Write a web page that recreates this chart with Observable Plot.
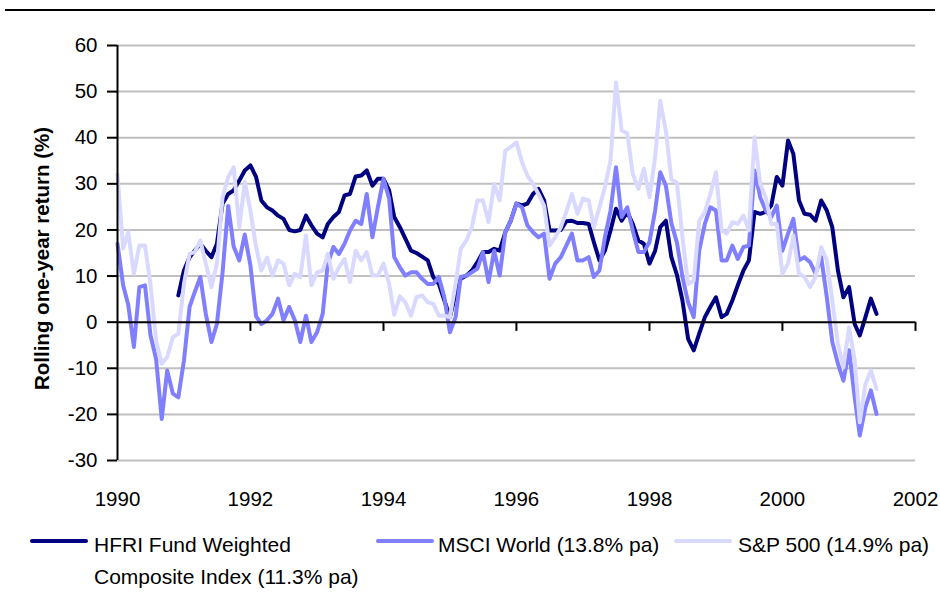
<!DOCTYPE html>
<html><head><meta charset="utf-8">
<script src="https://cdn.jsdelivr.net/npm/d3@7"></script>
<script src="https://cdn.jsdelivr.net/npm/@observablehq/plot@0.6"></script>
<style>
body{margin:0;background:#fff;font-family:"Liberation Sans",Arial,sans-serif;}
#wrap{position:relative;width:940px;height:598px;overflow:hidden;}
#chart{position:absolute;left:0;top:0;}
#topline{position:absolute;left:5px;top:9px;width:930px;height:2px;background:#000;}
#legend{position:absolute;left:0;top:520px;width:940px;height:78px;font-size:21px;color:#000;}
.sw{position:absolute;height:4px;border-radius:2px;top:19px;}
.lt{position:absolute;top:9px;line-height:32px;white-space:nowrap;}
</style></head><body>
<div id="wrap"><div id="chart"></div><div id="topline"></div><div id="legend"></div></div>
<script>
// Series: rolling one-year returns (%), monthly
const mainStart = [1990, 0];   // Jan 1990 (MSCI World, S&P 500)
const hfriStart = [1990, 11];  // Dec 1990 (HFRI)

const hfri = [5.8,11.2,14.1,15.5,17,15.5,14.1,17,25.7,27.8,28.6,30.7,32.9,34,31.5,26.4,24.9,24.2,23.1,22.4,20,19.7,20,23.1,21,19.2,18.4,21.3,22.8,23.9,27.5,27.8,31.6,31.8,32.9,29.6,31.1,31.1,28.6,22.8,20.6,18.1,15.5,15,14.2,13.4,9.8,8.3,4.7,1.1,6.1,9.4,10.1,11.2,13,15.2,15.2,15.9,15.5,19.5,22,25.7,25.3,25.7,27.8,28.9,26.4,19.9,19.9,20,21.9,22,21.5,21.5,21.3,17.4,13.4,15.5,19.9,24.6,22,23.9,21.3,17.7,17,12.7,15.5,20.6,22,14.1,10.2,4.7,-3.6,-6.1,-2.5,1.1,3.3,5.4,1.1,1.8,4.7,8,11.2,13.4,23.9,23.5,23.9,25.3,31.5,29.6,39.4,36.5,26.4,23.5,23.3,22,26.4,24.2,20.6,11.2,5.4,7.6,-0.4,-2.9,1.1,5.1,1.8];

const msci = [17,8,3.8,-5.4,7.6,8,-2.8,-8,-21,-10.5,-15.5,-16.3,-8.3,3.3,6.5,9.8,1.8,-4.3,-0.4,10.8,25.2,16.4,13.4,19,12.3,1.3,-0.4,0.4,1.8,5.1,0.4,3.3,0.4,-4.3,1.4,-4.3,-2.2,1.8,12.7,16.3,14.8,17,19.9,22,21.3,27.8,18.4,24.9,31.1,26.8,14.1,11.9,10.1,10.8,10.8,9.4,8.3,8.3,9.8,5.4,-2.2,1.1,9.8,10.1,10.8,11.6,15.2,8.7,15.5,10.1,19.5,22,25.7,24.9,21,19.5,18.4,19.2,9.4,12.7,14.1,16.6,19.2,13.4,13.4,14.1,9.8,11.2,18.4,24.2,33.6,22.8,24.9,19.9,15.2,15.2,17.4,24.2,32.5,29.6,21.5,17.2,9.8,4.3,1.1,15.5,21.3,24.9,24.2,13.4,13.4,16.6,13.7,16.3,16.6,32.9,27.1,24.2,22.8,25.3,15.5,19.2,22.4,13.4,14.1,13,10.5,14.1,5.4,-4.3,-9,-12.7,-6.1,-16.3,-24.6,-18.4,-14.8,-19.9];

const sp500 = [32,16,19.5,10.5,16.6,16.6,8.3,-4,-9,-7.6,-3.3,-2.5,8.3,14.8,15.2,17.7,12.7,7.6,12.7,27,31.5,33.6,20.6,30.4,24.2,16.3,11.2,14,10.1,13.4,12.7,8,10.5,9.8,18.8,8,10.8,11.2,14.8,9.4,11.9,13.7,8.7,15.5,13.4,15.2,10.1,10.1,12.7,8.3,1.6,5.6,4.3,1.4,5.4,5.8,4.3,4,1.4,1.4,1.1,8.3,15.9,17.7,20.6,26.4,26.4,21.7,30,26.4,37.2,38,39,34.7,31.8,30,27.8,25.3,16.6,18.4,20.6,23.9,27.8,23.5,26.8,26.4,20.6,24.9,29.3,35.1,52,41.6,40.9,32.2,28.9,33.3,27.1,35.8,48,41.5,31,30.2,18.4,8.3,9,22,23.9,27.8,32.5,19.9,19.2,21.7,21.3,23.1,19.9,40.1,30,27.1,21.3,21.3,10.5,12.7,18.8,10.5,9.8,7.6,9.8,16.3,13.4,4.7,-4.7,-9.8,-1.1,-8.3,-21.7,-13.4,-10.5,-14.5];

const seriesNames = ["HFRI Fund Weighted\nComposite Index (11.3% pa)", "MSCI World (13.8% pa)", "S&P 500 (14.9% pa)"];
const seriesColors = ["#000080", "#7f7fff", "#d9d9ff"];
const yTicks = [-30,-20,-10,0,10,20,30,40,50,60];
const xTickYears = [1990,1992,1994,1996,1998,2000,2002];
const yTitle = "Rolling one-year return (%)";

const toRows = (vals, start) => vals.map((v, i) => ({date: new Date(Date.UTC(start[0], start[1] + i, 1)), v}));
const hfriRows = toRows(hfri, hfriStart);
const msciRows = toRows(msci, mainStart);
const spRows = toRows(sp500, mainStart);
const xTickDates = xTickYears.map(y => new Date(Date.UTC(y, 0, 1)));
const gridVals = yTicks.filter(v => v !== 0);
const FONT = "'Liberation Sans', Arial, sans-serif";

const chart = Plot.plot({
  width: 940, height: 520,
  marginLeft: 117, marginRight: 25, marginTop: 45, marginBottom: 60,
  x: {type: "utc", domain: [xTickDates[0], xTickDates[xTickDates.length - 1]]},
  y: {domain: [yTicks[0], yTicks[yTicks.length - 1]]},
  style: {fontFamily: FONT, fontSize: "20.5px", color: "#000", background: "#fff", overflow: "visible"},
  marks: [
    Plot.ruleY(gridVals, {stroke: "#c0c0c0", strokeWidth: 2}),
    Plot.lineY(hfriRows, {x: "date", y: "v", stroke: seriesColors[0], strokeWidth: 4, strokeLinejoin: "round", strokeLinecap: "round"}),
    Plot.lineY(msciRows, {x: "date", y: "v", stroke: seriesColors[1], strokeWidth: 4, strokeLinejoin: "round", strokeLinecap: "round"}),
    Plot.lineY(spRows, {x: "date", y: "v", stroke: seriesColors[2], strokeWidth: 4, strokeLinejoin: "round", strokeLinecap: "round"}),
    Plot.ruleX([xTickDates[0]], {stroke: "#000", strokeWidth: 2}),
    Plot.ruleY([0], {stroke: "#000", strokeWidth: 2}),
    Plot.ruleX(xTickDates.slice(1), {x: d => d, y1: 0, y2: -2, stroke: "#000", strokeWidth: 2}),
    Plot.axisY({ticks: yTicks, tickSize: 10, tickPadding: 10, tickFormat: d => String(d), stroke: "#000", strokeWidth: 2, fontSize: 20.5, label: null}),
    Plot.axisX({ticks: xTickDates, tickSize: 0, tickPadding: 31, tickFormat: d => String(d.getUTCFullYear()), fontSize: 20.5, label: null}),
    Plot.text([yTitle], {text: d => d, frameAnchor: "left", textAnchor: "middle", rotate: -90, dx: -75, dy: 5.5, fontWeight: "bold", fontSize: 20.5, fill: "#000"})
  ]
});
document.getElementById("chart").appendChild(chart);

// Legend
const legend = document.getElementById("legend");
const swatchX = [30, 376, 674];
const textX = [94, 438, 738];
seriesNames.forEach((name, i) => {
  const sw = document.createElement("div");
  sw.className = "sw";
  sw.style.left = swatchX[i] + "px";
  sw.style.width = "58px";
  sw.style.background = seriesColors[i];
  legend.appendChild(sw);
  const t = document.createElement("div");
  t.className = "lt";
  t.style.left = textX[i] + "px";
  name.split("\n").forEach((line, j) => {
    if (j) t.appendChild(document.createElement("br"));
    t.appendChild(document.createTextNode(line));
  });
  legend.appendChild(t);
});
</script>
</body></html>
